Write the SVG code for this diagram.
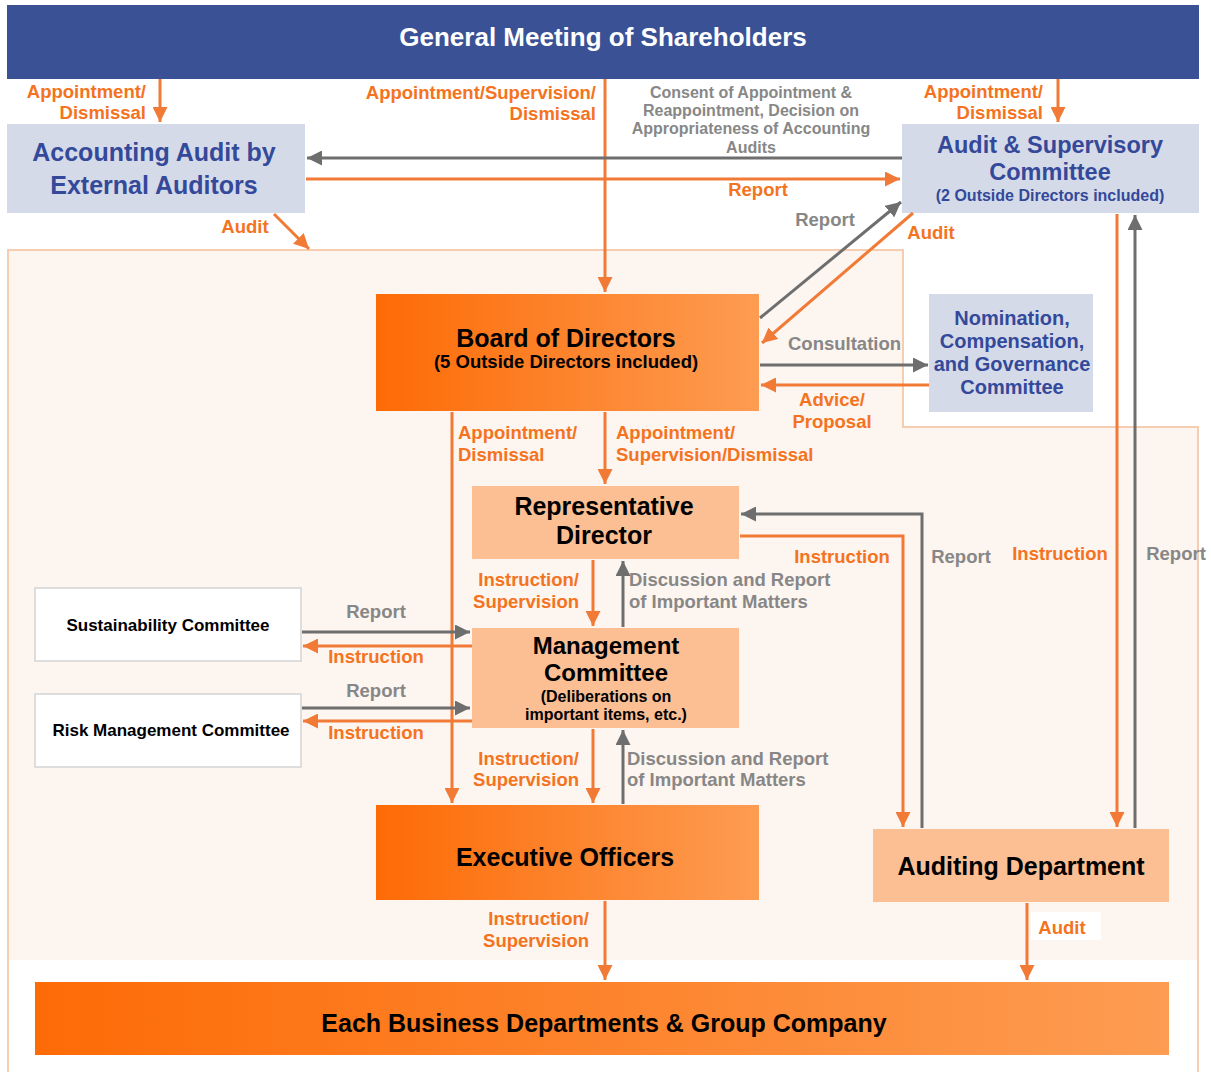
<svg xmlns="http://www.w3.org/2000/svg" width="1211" height="1076" viewBox="0 0 1211 1076">
<style>
text{font-family:"Liberation Sans",Arial,sans-serif;font-weight:bold}
.lo{fill:#f47321;font-size:18.5px}
.lg{fill:#878787;font-size:18.5px}
.lc{fill:#878787;font-size:16px}
.bt{fill:#34499a}
.bk{fill:#000}
.co{stroke:#f07a36;stroke-width:3;fill:none}
.cg{stroke:#6e6e6e;stroke-width:3;fill:none}
.bluebox{fill:#d5dae8}
.lite{fill:#fbbf93}
</style>
<defs>
<linearGradient id="og" x1="0" y1="0" x2="1" y2="0">
<stop offset="0" stop-color="#fd6b06"/>
<stop offset="1" stop-color="#fd9c52"/>
</linearGradient>
<marker id="ao" viewBox="0 0 10 10" refX="10" refY="5" markerWidth="15" markerHeight="15" markerUnits="userSpaceOnUse" orient="auto"><path d="M0,0 L10,5 L0,10 z" fill="#f07a36"/></marker>
<marker id="ag" viewBox="0 0 10 10" refX="10" refY="5" markerWidth="15" markerHeight="15" markerUnits="userSpaceOnUse" orient="auto"><path d="M0,0 L10,5 L0,10 z" fill="#6e6e6e"/></marker>
</defs>
<rect width="1211" height="1076" fill="#fff"/>
<g id="background">
<path d="M8,250 H903 V427 H1198 V960 H8 Z" fill="#fdf5ef"/>
<path d="M8,1072 V250 H903 V427 H1198 V1072" fill="none" stroke="#f6cdb0" stroke-width="2"/>
</g>
<g id="shareholders">
<rect x="7" y="5" width="1192" height="74" fill="#3a5196"/>
<text x="603" y="46" text-anchor="middle" fill="#fff" font-size="26">General Meeting of Shareholders</text>
</g>
<g id="accounting-audit">
<rect class="bluebox" x="7" y="124" width="298" height="89"/>
<text class="bt" x="154" y="161" text-anchor="middle" font-size="25">Accounting Audit by</text>
<text class="bt" x="154" y="194" text-anchor="middle" font-size="25">External Auditors</text>
</g>
<g id="audit-supervisory">
<rect class="bluebox" x="902" y="124" width="297" height="89"/>
<text class="bt" x="1050" y="153" text-anchor="middle" font-size="23.5">Audit &amp; Supervisory</text>
<text class="bt" x="1050" y="180" text-anchor="middle" font-size="23.5">Committee</text>
<text class="bt" x="1050" y="201" text-anchor="middle" font-size="16">(2 Outside Directors included)</text>
</g>
<g id="board">
<rect x="376" y="294" width="383" height="117" fill="url(#og)"/>
<text class="bk" x="566" y="347" text-anchor="middle" font-size="25">Board of Directors</text>
<text class="bk" x="566" y="368" text-anchor="middle" font-size="18.5">(5 Outside Directors included)</text>
</g>
<g id="nomination">
<rect class="bluebox" x="929" y="294" width="164" height="118"/>
<text class="bt" x="1012" y="325" text-anchor="middle" font-size="20">Nomination,</text>
<text class="bt" x="1012" y="348" text-anchor="middle" font-size="20">Compensation,</text>
<text class="bt" x="1012" y="371" text-anchor="middle" font-size="20">and Governance</text>
<text class="bt" x="1012" y="394" text-anchor="middle" font-size="20">Committee</text>
</g>
<g id="representative">
<rect class="lite" x="472" y="486" width="267" height="73"/>
<text class="bk" x="604" y="515" text-anchor="middle" font-size="25">Representative</text>
<text class="bk" x="604" y="544" text-anchor="middle" font-size="25">Director</text>
</g>
<g id="management">
<rect class="lite" x="472" y="628" width="267" height="100"/>
<text class="bk" x="606" y="654" text-anchor="middle" font-size="24">Management</text>
<text class="bk" x="606" y="681" text-anchor="middle" font-size="24">Committee</text>
<text class="bk" x="606" y="702" text-anchor="middle" font-size="16">(Deliberations on</text>
<text class="bk" x="606" y="720" text-anchor="middle" font-size="16">important items, etc.)</text>
</g>
<g id="sustainability">
<rect x="35" y="588" width="266" height="73" fill="#fff" stroke="#d4d4d4" stroke-width="1.5"/>
<text class="bk" x="168" y="631" text-anchor="middle" font-size="17">Sustainability Committee</text>
</g>
<g id="risk">
<rect x="35" y="694" width="266" height="73" fill="#fff" stroke="#d4d4d4" stroke-width="1.5"/>
<text class="bk" x="171" y="736" text-anchor="middle" font-size="17">Risk Management Committee</text>
</g>
<g id="executive">
<rect x="376" y="805" width="383" height="95" fill="url(#og)"/>
<text class="bk" x="565" y="866" text-anchor="middle" font-size="25">Executive Officers</text>
</g>
<g id="auditing-dept">
<rect class="lite" x="873" y="829" width="296" height="73"/>
<text class="bk" x="1021" y="875" text-anchor="middle" font-size="25">Auditing Department</text>
</g>
<g id="business">
<rect x="35" y="982" width="1134" height="73" fill="url(#og)"/>
<text class="bk" x="604" y="1032" text-anchor="middle" font-size="25">Each Business Departments &amp; Group Company</text>
</g>
<g id="connectors">
<path class="co" d="M160,79 V122" marker-end="url(#ao)"/>
<path class="co" d="M605,79 V292" marker-end="url(#ao)"/>
<path class="co" d="M1058,79 V122" marker-end="url(#ao)"/>
<path class="cg" d="M902,158 H307" marker-end="url(#ag)"/>
<path class="co" d="M306,179 H900" marker-end="url(#ao)"/>
<path class="co" d="M274,214 L309,249" marker-end="url(#ao)"/>
<path class="cg" d="M760,318 L901,202" marker-end="url(#ag)"/>
<path class="co" d="M913,213 L762,343" marker-end="url(#ao)"/>
<path class="cg" d="M760,365 H928" marker-end="url(#ag)"/>
<path class="co" d="M929,385 H761" marker-end="url(#ao)"/>
<path class="co" d="M452,412 V803" marker-end="url(#ao)"/>
<path class="co" d="M605,412 V484" marker-end="url(#ao)"/>
<path class="co" d="M593,560 V626" marker-end="url(#ao)"/>
<path class="cg" d="M623,627 V561" marker-end="url(#ag)"/>
<path class="co" d="M593,729 V803" marker-end="url(#ao)"/>
<path class="cg" d="M623,804 V730" marker-end="url(#ag)"/>
<path class="cg" d="M302,632 H470" marker-end="url(#ag)"/>
<path class="co" d="M472,646 H303" marker-end="url(#ao)"/>
<path class="cg" d="M302,708 H470" marker-end="url(#ag)"/>
<path class="co" d="M472,721 H303" marker-end="url(#ao)"/>
<path class="co" d="M605,901 V980" marker-end="url(#ao)"/>
<path class="co" d="M1027,903 V980" marker-end="url(#ao)"/>
<path class="co" d="M740,536 H903 V827" marker-end="url(#ao)"/>
<path class="cg" d="M922,828 V514 H741" marker-end="url(#ag)"/>
<path class="co" d="M1117,214 V827" marker-end="url(#ao)"/>
<path class="cg" d="M1135,828 V215" marker-end="url(#ag)"/>
</g>
<g id="labels">
<text class="lo" x="146" y="98" text-anchor="end">Appointment/</text>
<text class="lo" x="146" y="119" text-anchor="end">Dismissal</text>
<text class="lo" x="596" y="99" text-anchor="end">Appointment/Supervision/</text>
<text class="lo" x="596" y="120" text-anchor="end">Dismissal</text>
<text class="lc" x="751" y="98" text-anchor="middle">Consent of Appointment &amp;</text>
<text class="lc" x="751" y="116" text-anchor="middle">Reappointment, Decision on</text>
<text class="lc" x="751" y="134" text-anchor="middle">Appropriateness of Accounting</text>
<text class="lc" x="751" y="153" text-anchor="middle">Audits</text>
<text class="lo" x="1043" y="98" text-anchor="end">Appointment/</text>
<text class="lo" x="1043" y="119" text-anchor="end">Dismissal</text>
<text class="lo" x="758" y="196" text-anchor="middle">Report</text>
<text class="lo" x="245" y="233" text-anchor="middle">Audit</text>
<text class="lg" x="825" y="226" text-anchor="middle">Report</text>
<text class="lo" x="931" y="239" text-anchor="middle">Audit</text>
<text class="lg" x="788" y="350">Consultation</text>
<text class="lo" x="832" y="406" text-anchor="middle">Advice/</text>
<text class="lo" x="832" y="428" text-anchor="middle">Proposal</text>
<text class="lo" x="458" y="439">Appointment/</text>
<text class="lo" x="458" y="461">Dismissal</text>
<text class="lo" x="616" y="439">Appointment/</text>
<text class="lo" x="616" y="461">Supervision/Dismissal</text>
<text class="lo" x="579" y="586" text-anchor="end">Instruction/</text>
<text class="lo" x="579" y="608" text-anchor="end">Supervision</text>
<text class="lg" x="629" y="586">Discussion and Report</text>
<text class="lg" x="629" y="608">of Important Matters</text>
<text class="lo" x="842" y="563" text-anchor="middle">Instruction</text>
<text class="lg" x="961" y="563" text-anchor="middle">Report</text>
<text class="lo" x="1060" y="560" text-anchor="middle">Instruction</text>
<text class="lg" x="1176" y="560" text-anchor="middle">Report</text>
<text class="lg" x="376" y="618" text-anchor="middle">Report</text>
<text class="lo" x="376" y="663" text-anchor="middle">Instruction</text>
<text class="lg" x="376" y="697" text-anchor="middle">Report</text>
<text class="lo" x="376" y="739" text-anchor="middle">Instruction</text>
<text class="lo" x="579" y="765" text-anchor="end">Instruction/</text>
<text class="lo" x="579" y="786" text-anchor="end">Supervision</text>
<text class="lg" x="627" y="765">Discussion and Report</text>
<text class="lg" x="627" y="786">of Important Matters</text>
<text class="lo" x="589" y="925" text-anchor="end">Instruction/</text>
<text class="lo" x="589" y="947" text-anchor="end">Supervision</text>
<rect x="1031" y="912" width="70" height="28" fill="#fff"/>
<text class="lo" x="1062" y="934" text-anchor="middle">Audit</text>
</g>
</svg>
